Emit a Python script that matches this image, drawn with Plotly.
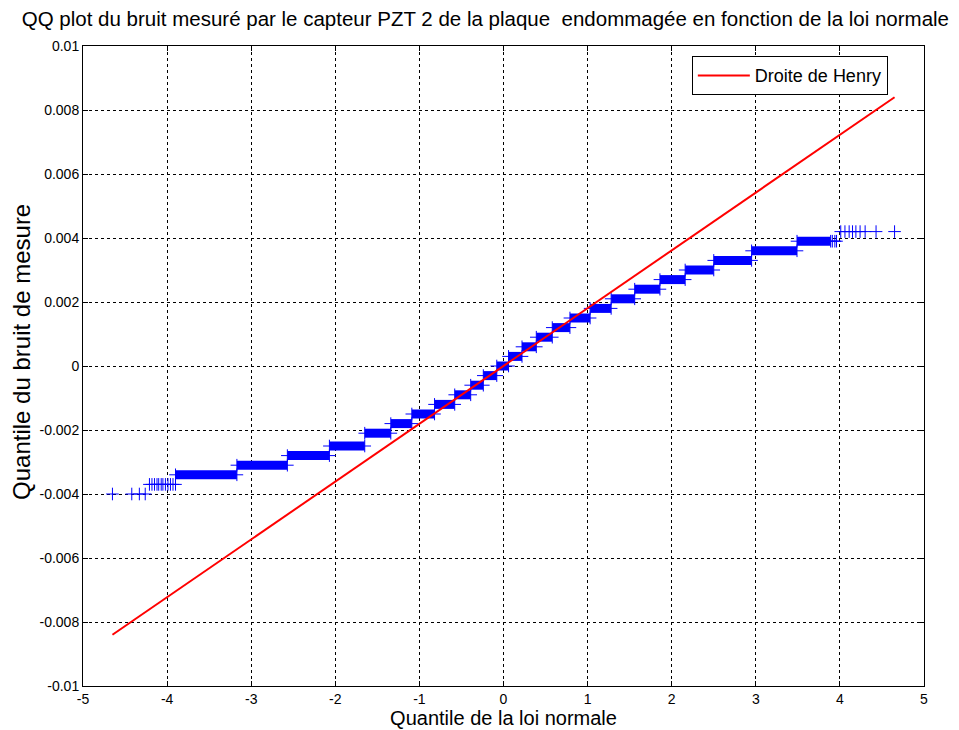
import plotly.graph_objects as go

# ---- data ----
# staircase levels (measured noise quantiles) and their x-extent (normal quantiles)
step_level = [-0.0034, -0.0031, -0.0028, -0.0025, -0.0021, -0.0018, -0.0015, -0.0012,
              -0.0009, -0.0006, -0.0003, 0.0, 0.0003, 0.0006, 0.0009, 0.0012, 0.0015,
              0.0018, 0.0021, 0.0024, 0.0027, 0.0030, 0.0033, 0.0036, 0.0039]
step_x_start = [-3.90, -3.17, -2.57, -2.07, -1.65, -1.34, -1.09, -0.82,
                -0.58, -0.39, -0.24, -0.08, 0.06, 0.22, 0.39, 0.58, 0.79,
                1.03, 1.28, 1.56, 1.86, 2.16, 2.50, 2.95, 3.49]
step_x_end = [-3.17, -2.57, -2.07, -1.65, -1.34, -1.09, -0.82, -0.58,
              -0.39, -0.24, -0.08, 0.06, 0.22, 0.39, 0.58, 0.79, 1.03,
              1.28, 1.56, 1.86, 2.16, 2.50, 2.95, 3.49, 3.89]

# isolated tail points
tail_x = [-4.65, -4.42, -4.33, -4.26,
          -4.21, -4.18, -4.15, -4.12, -4.10, -4.07, -4.05, -4.02, -3.99, -3.96, -3.93, -3.90,
          3.91, 3.94, 3.96,
          4.01, 4.06, 4.11, 4.15, 4.19, 4.24, 4.30, 4.43, 4.65]
tail_y = [-0.0040, -0.0040, -0.0040, -0.0040,
          -0.0037, -0.0037, -0.0037, -0.0037, -0.0037, -0.0037, -0.0037, -0.0037, -0.0037, -0.0037, -0.0037, -0.0037,
          0.0039, 0.0039, 0.0039,
          0.0042, 0.0042, 0.0042, 0.0042, 0.0042, 0.0042, 0.0042, 0.0042, 0.0042]

# Henry line
henry_x = [-4.65, 4.65]
henry_y = [-0.0084, 0.0084]

# axis ticks
x_ticks = [-5, -4, -3, -2, -1, 0, 1, 2, 3, 4, 5]
x_ticktext = ["-5", "-4", "-3", "-2", "-1", "0", "1", "2", "3", "4", "5"]
y_ticks = [-0.01, -0.008, -0.006, -0.004, -0.002, 0, 0.002, 0.004, 0.006, 0.008, 0.01]
y_ticktext = ["-0.01", "-0.008", "-0.006", "-0.004", "-0.002", "0",
              "0.002", "0.004", "0.006", "0.008", "0.01"]

BLUE = "#0000FF"
RED = "#FF0000"
FONT = "Liberation Sans, Arial, sans-serif"

# build segments
seg_x, seg_y = [], []
end_x, end_y = [], []
for lv, a, b in zip(step_level, step_x_start, step_x_end):
    seg_x += [a, b, None]
    seg_y += [lv, lv, None]
    end_x += [a, b]
    end_y += [lv, lv]

fig = go.Figure()
fig.add_trace(go.Scatter(x=seg_x, y=seg_y, mode="lines",
                         line=dict(color=BLUE, width=9), showlegend=False,
                         hoverinfo="skip"))
fig.add_trace(go.Scatter(x=end_x + tail_x, y=end_y + tail_y, mode="markers",
                         marker=dict(symbol="cross-thin", size=9,
                                     line=dict(color=BLUE, width=1)),
                         showlegend=False))
fig.add_trace(go.Scatter(x=henry_x, y=henry_y, mode="lines",
                         line=dict(color=RED, width=2),
                         name="Droite de Henry"))

axis_common = dict(showgrid=True, gridcolor="black", griddash="3px,3px", gridwidth=1,
                   zeroline=False, showline=True, linecolor="black", linewidth=1,
                   mirror="ticks", ticks="inside", ticklen=5, tickcolor="black",
                   automargin=False,
                   tickfont=dict(family=FONT, size=14, color="black"))

fig.update_layout(
    width=951, height=722,
    margin=dict(l=75, r=35, t=38, b=44),
    paper_bgcolor="white", plot_bgcolor="white",
    title=dict(text="QQ plot du bruit mesuré par le capteur PZT 2 de la plaque  endommagée en fonction de la loi normale",
               x=0.502, xanchor="center", xref="container",
               y=0.985, yanchor="middle", yref="container",
               font=dict(family=FONT, size=20.5, color="black")),
    xaxis=dict(range=[-5, 5], tickvals=x_ticks, ticktext=x_ticktext,
               title=dict(text="Quantile de la loi normale", standoff=2,
                          font=dict(family=FONT, size=20, color="black")),
               **axis_common),
    yaxis=dict(range=[-0.01, 0.01], tickvals=y_ticks, ticktext=y_ticktext,
               **axis_common),
    legend=dict(x=0.957, xanchor="right", y=0.984, yanchor="top",
                bgcolor="white", bordercolor="black", borderwidth=1,
                itemwidth=52,
                font=dict(family=FONT, size=18, color="black")),
    annotations=[dict(text="Quantile du bruit de mesure", textangle=-90,
                      xref="paper", yref="paper", x=-0.0725, y=0.522,
                      xanchor="center", yanchor="middle", showarrow=False,
                      font=dict(family=FONT, size=24, color="black"))],
)

fig.write_html("out.html")
